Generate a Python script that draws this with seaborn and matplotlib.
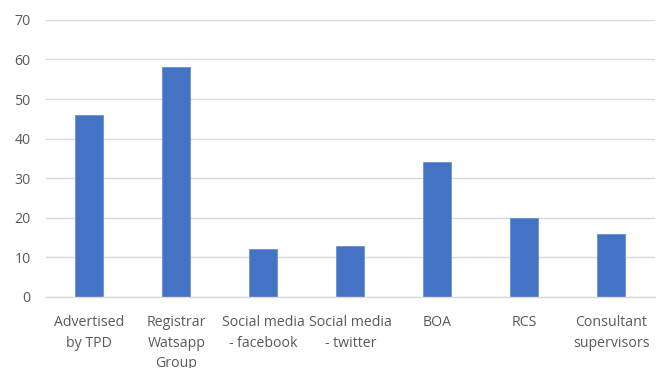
import matplotlib
matplotlib.use("Agg")
import matplotlib.pyplot as plt
import seaborn as sns
import pandas as pd

categories = ["Advertised\nby TPD", "Registrar\nWatsapp\nGroup", "Social media\n- facebook",
              "Social media\n- twitter", "BOA", "RCS", "Consultant\nsupervisors"]
values = [46, 58, 12, 13, 34, 20, 16]
yticks = [0, 10, 20, 30, 40, 50, 60, 70]

sns.set_theme(style="white")
plt.rcParams['font.family'] = ['Open Sans', 'DejaVu Sans']

df = pd.DataFrame({"cat": categories, "val": values})
fig = plt.figure(figsize=(6.56, 3.68), dpi=100)
ax = fig.add_axes([0.070, 0.193, 0.928, 0.753])
sns.barplot(data=df, x="cat", y="val", color="#4472C4", width=0.32, saturation=1,
            edgecolor="#6C8FD6", linewidth=0.6, ax=ax)
ax.set_ylim(0, 70)
ax.set_xlim(-0.5, len(categories) - 0.5)
ax.set_yticks(yticks)
ax.yaxis.grid(True, color="#D9D9D9", linewidth=1)
ax.set_axisbelow(True)
for s in ["top", "right", "left"]:
    ax.spines[s].set_visible(False)
ax.spines["bottom"].set_color("#D9D9D9")
ax.spines["bottom"].set_linewidth(1)
ax.set_xlabel("")
ax.set_ylabel("")
ax.tick_params(axis="y", length=0, pad=11, labelsize=10.2, labelcolor="#595959")
ax.tick_params(axis="x", length=0, pad=13, labelsize=10.2, labelcolor="#595959")
for lab in ax.get_xticklabels():
    lab.set_linespacing(1.5)
    lab.set_verticalalignment("top")
fig.savefig("out.png", dpi=100)
